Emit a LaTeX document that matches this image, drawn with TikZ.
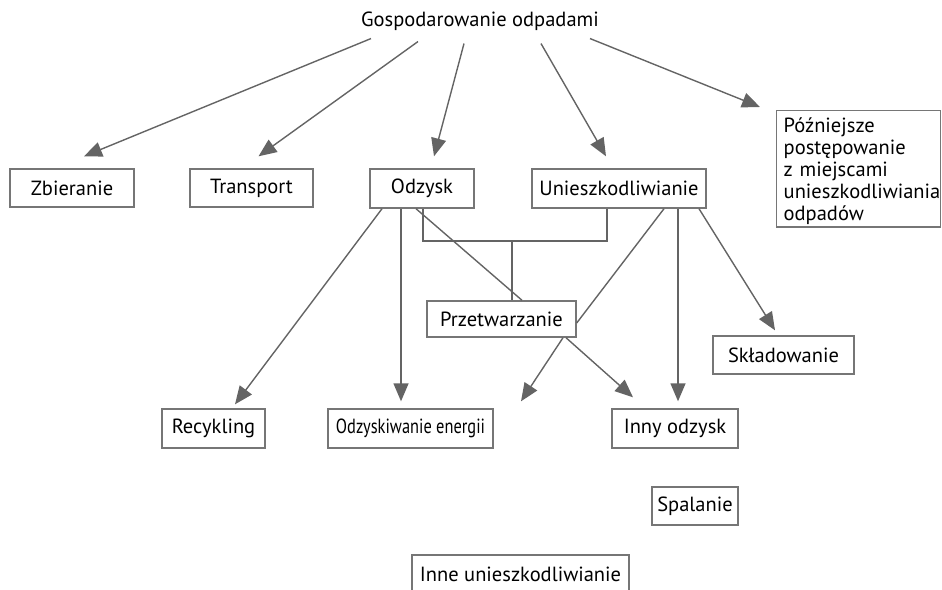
\documentclass[tikz,border=0pt]{standalone}
\usepackage{fontspec}
\usepackage{graphicx}
\setmainfont{PT Sans}
\usetikzlibrary{arrows.meta}
\definecolor{linegray}{RGB}{100,100,100}
\definecolor{boxgray}{RGB}{118,118,118}
\tikzset{
    every node/.style = {font=\fontsize{20.5}{22}\selectfont, text=black},
    box/.style = {draw=boxgray, line width=1.4pt, inner sep=0pt, minimum height=38pt},
    arr/.style = {draw=linegray, line width=1.4pt, -{Triangle[length=18pt, width=15pt]}},
    link/.style = {draw=linegray, line width=1.4pt}
}

\begin{document}
\begin{tikzpicture}[x=1pt, y=-1pt]
    \useasboundingbox (0,0) rectangle (942,589);
    \node[inner xsep=0pt, inner ysep=10pt] (title) at (480,21) {Gospodarowanie odpadami};

    \node[box, minimum width=124pt] (zbier) at (72,188) {Zbieranie};
    \node[box, minimum width=123pt] (transp) at (251.5,188) {Transport};
    \node[box, minimum width=104pt, minimum height=39pt] (odzysk) at (422,188.5) {Odzysk};
    \node[box, minimum width=174pt, minimum height=39pt] (uniesz) at (619,188.5) {Unieszkodliwianie};
    \node[box, anchor=north west, text width=150pt, inner xsep=7pt, inner ysep=2pt, minimum height=114pt, align=left] (pozn) at (776,110)
        {\rule{0pt}{20pt}Późniejsze\\postępowanie\\z miejscami\\unieszkodliwiania\\odpadów};

    \node[box, minimum width=149pt, minimum height=36pt] (przetw) at (501.5,319) {Przetwarzanie};
    \node[box, minimum width=141pt] (sklad) at (783.5,355) {Składowanie};

    \node[box, minimum width=103pt, minimum height=39pt] (recyk) at (213.5,428.5) {Recykling};
    \node[box, minimum width=165pt, minimum height=39pt] (energ) at (410.5,428.5) {\scalebox{0.8}[1]{Odzyskiwanie energii}};
    \node[box, minimum width=126pt, minimum height=39pt] (inny) at (675,428.5) {Inny odzysk};
    \node[box, minimum width=86pt] (spal) at (695,506) {Spalanie};
    \node[box, minimum width=217pt] (inne) at (520.5,574) {Inne unieszkodliwianie};

    \draw[arr] ([xshift=-109pt, yshift=2pt]title.south) -- ([xshift=12pt, yshift=12pt]zbier.north);
    \draw[arr] ([xshift=-62pt, yshift=-1pt]title.south) -- ([xshift=7pt, yshift=12pt]transp.north);
    \draw[arr] ([xshift=-16pt, yshift=-3pt]title.south) -- ([xshift=12pt, yshift=12pt]odzysk.north);
    \draw[arr] ([xshift=61pt, yshift=-3pt]title.south) -- ([xshift=-13pt, yshift=12pt]uniesz.north);
    \draw[arr] ([xshift=110pt, yshift=2pt]title.south) -- ([xshift=-16pt, yshift=3pt]pozn.north west);

    \coordinate (joint) at (512,241);
    \draw[link] ([xshift=1pt]odzysk.south) |- (joint) -| ([xshift=-12pt]uniesz.south);
    \draw[link] (joint) -- (joint |- przetw.north);
    \draw[link] ([xshift=-6pt]odzysk.south) -- ([xshift=20.5pt]przetw.north);
    \draw[link] ([xshift=45pt]uniesz.south) -- ([yshift=-4pt]przetw.east);

    \draw[arr] ([xshift=-40pt]odzysk.south) -- ([xshift=21.5pt, yshift=4pt]recyk.north);
    \draw[arr] ([xshift=-21pt]odzysk.south) -- ([xshift=-9.5pt, yshift=7pt]energ.north);
    \draw[arr] ([xshift=59pt]uniesz.south) -- ([xshift=3pt, yshift=7pt]inny.north);
    \draw[arr] ([xshift=80pt]uniesz.south) -- ([xshift=-8.5pt, yshift=5pt]sklad.north);
    \draw[arr] ([xshift=61.5pt]przetw.south) -- ([xshift=110.5pt, yshift=7pt]energ.north);
    \draw[arr] ([xshift=64.5pt]przetw.south) -- ([xshift=-42pt, yshift=11pt]inny.north);
\end{tikzpicture}
\end{document}
